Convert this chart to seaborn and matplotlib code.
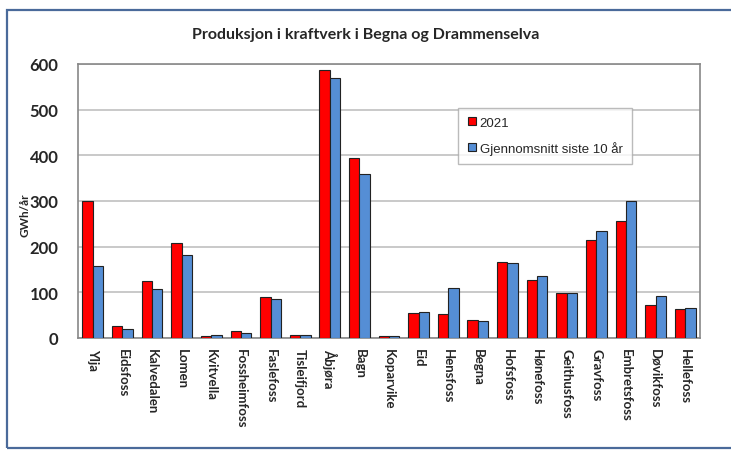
import pandas as pd
import matplotlib.pyplot as plt
import seaborn as sns
from matplotlib.patches import Rectangle

sns.set_theme(style="white")
plt.rcParams['font.family'] = ['Lato', 'DejaVu Sans']

kraftverk = ["Ylja", "Eidsfoss", "Kalvedalen", "Lomen", "Kvitvella", "Fossheimfoss",
             "Faslefoss", "Tisleifjord", "Åbjøra", "Bagn", "Koparvike", "Eid",
             "Hensfoss", "Begna", "Hofsfoss", "Hønefoss", "Geithusfoss", "Gravfoss",
             "Embretsfoss", "Døvikfoss", "Hellefoss"]
prod_2021 = [300, 27, 124, 207, 4, 15, 90, 7, 587, 395, 4, 54, 52, 40, 167, 128, 99, 214, 256, 73, 64]
snitt_10 = [157, 20, 107, 182, 6, 12, 86, 7, 569, 359, 4, 58, 109, 37, 165, 136, 98, 234, 300, 92, 66]
serier = ["2021", "Gjennomsnitt siste 10 år"]

df = pd.DataFrame({
    "kraftverk": kraftverk * 2,
    "GWh": prod_2021 + snitt_10,
    "serie": [serier[0]] * len(kraftverk) + [serier[1]] * len(kraftverk),
})

fig = plt.figure(figsize=(7.31, 4.52), dpi=100)
ax = fig.add_axes([78 / 731, 1 - 339 / 452, 622 / 731, 274 / 452])

sns.barplot(data=df, x="kraftverk", y="GWh", hue="serie",
            palette=["#ff0000", "#558ed5"], saturation=1, edgecolor="#222222",
            linewidth=0.8, width=0.70, ax=ax, zorder=3)

ax.set_ylim(0, 600)
ax.set_yticks(range(0, 601, 100))
ax.set_xlim(-0.5, len(kraftverk) - 0.5)
ax.yaxis.grid(True, color="#c0c0c0", linewidth=1.2, zorder=0)
ax.set_axisbelow(True)
for s in ax.spines.values():
    s.set_color("#888888")
    s.set_linewidth(1.2)

ax.set_xlabel("")
ax.set_ylabel("")
fig.text(25 / 731, 1 - 215 / 452, "GWh/år", rotation=90, fontsize=8.5,
         fontweight="bold", ha="center", va="center")
ax.tick_params(axis="y", labelsize=12, length=0, pad=14)
ax.tick_params(axis="x", labelsize=9.5, length=0, pad=7)
plt.setp(ax.get_yticklabels(), fontweight="bold")
plt.setp(ax.get_xticklabels(), rotation=270, fontweight="bold", va="top", ha="center")

leg = ax.legend(loc="upper left", bbox_to_anchor=(0.601, 0.865), frameon=True,
                fancybox=False, shadow=False, edgecolor="#aaaaaa",
                prop={"family": "Liberation Sans", "size": 9.5},
                handlelength=0.6, handleheight=0.6, handletextpad=0.3,
                labelspacing=0.9, borderpad=0.7)
leg.get_frame().set_linewidth(1.0)

fig.suptitle("Produksjon i kraftverk i Begna og Drammenselva", x=0.5, y=1 - 35 / 452,
             fontsize=11.5, fontweight="bold", va="center")

fig.patches.append(Rectangle((7 / 731, 3 / 452), 1.0, 1 - 14 / 452,
                             transform=fig.transFigure, fill=False,
                             edgecolor="#4a6a9a", linewidth=1.6))

fig.savefig("out.png", dpi=100)
